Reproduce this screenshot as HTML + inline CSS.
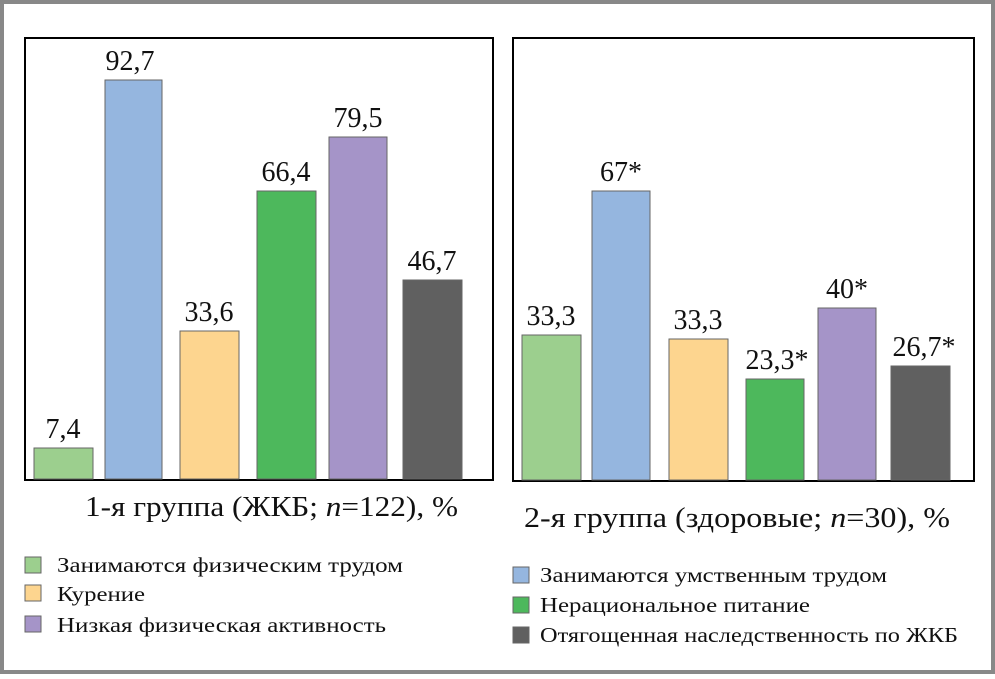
<!DOCTYPE html>
<html><head><meta charset="utf-8"><style>
body{margin:0;width:995px;height:674px;overflow:hidden;background:#fff;}
text{font-family:'Liberation Serif','DejaVu Serif',serif;fill:#111;}
</style></head><body>
<svg width="995" height="674" viewBox="0 0 995 674" font-family="Liberation Serif, serif">
<rect x="2" y="2" width="991" height="670" fill="#fff" stroke="#888" stroke-width="4"/>
<rect x="25" y="38" width="468" height="442" fill="none" stroke="#000" stroke-width="2"/>
<rect x="513" y="38" width="461" height="443" fill="none" stroke="#000" stroke-width="2"/>
<g stroke="#666" stroke-width="1">
<rect x="34" y="448" width="59" height="31" fill="#9ccf8e"/>
<rect x="105" y="80" width="57" height="399" fill="#95b6df"/>
<rect x="180" y="331" width="59" height="148" fill="#fdd58f"/>
<rect x="257" y="191" width="59" height="288" fill="#4db85c"/>
<rect x="329" y="137" width="58" height="342" fill="#a594c8"/>
<rect x="403" y="280" width="59" height="199" fill="#606060"/>
<rect x="522" y="335" width="59" height="145" fill="#9ccf8e"/>
<rect x="592" y="191" width="58" height="289" fill="#95b6df"/>
<rect x="669" y="339" width="59" height="141" fill="#fdd58f"/>
<rect x="746" y="379" width="58" height="101" fill="#4db85c"/>
<rect x="818" y="308" width="58" height="172" fill="#a594c8"/>
<rect x="891" y="366" width="59" height="114" fill="#606060"/>
</g>
<g font-size="28" text-anchor="middle" font-family="Liberation Serif, serif">
<text x="63" y="438">7,4</text>
<text x="130" y="70">92,7</text>
<text x="209" y="321">33,6</text>
<text x="286" y="181">66,4</text>
<text x="358" y="127">79,5</text>
<text x="432" y="270">46,7</text>
<text x="551" y="325">33,3</text>
<text x="621" y="181">67*</text>
<text x="698" y="329">33,3</text>
<text x="777" y="369">23,3*</text>
<text x="847" y="298">40*</text>
<text x="924" y="356">26,7*</text>
</g>
<text x="85" y="516" font-size="28" textLength="373" lengthAdjust="spacingAndGlyphs" font-family="Liberation Serif, serif">1-я группа (ЖКБ; <tspan font-style="italic">n</tspan>=122), %</text>
<text x="524" y="527" font-size="28" textLength="426" lengthAdjust="spacingAndGlyphs" font-family="Liberation Serif, serif">2-я группа (здоровые; <tspan font-style="italic">n</tspan>=30), %</text>
<g stroke="#666" stroke-width="1">
<rect x="25" y="557" width="16" height="16" fill="#9ccf8e"/>
<rect x="25" y="585" width="16" height="16" fill="#fdd58f"/>
<rect x="25" y="616" width="16" height="16" fill="#a594c8"/>
<rect x="513" y="567" width="16" height="16" fill="#95b6df"/>
<rect x="513" y="597" width="16" height="16" fill="#4db85c"/>
<rect x="513" y="627" width="16" height="16" fill="#606060"/>
</g>
<g font-size="21" font-family="Liberation Serif, serif" lengthAdjust="spacingAndGlyphs">
<text x="57" y="572" textLength="346" lengthAdjust="spacingAndGlyphs">Занимаются физическим трудом</text>
<text x="57" y="601" textLength="88" lengthAdjust="spacingAndGlyphs">Курение</text>
<text x="57" y="632" textLength="329" lengthAdjust="spacingAndGlyphs">Низкая физическая активность</text>
<text x="540" y="582" textLength="347" lengthAdjust="spacingAndGlyphs">Занимаются умственным трудом</text>
<text x="540" y="612" textLength="270" lengthAdjust="spacingAndGlyphs">Нерациональное питание</text>
<text x="540" y="642" textLength="418" lengthAdjust="spacingAndGlyphs">Отягощенная наследственность по ЖКБ</text>
</g>
</svg>
</body></html>
